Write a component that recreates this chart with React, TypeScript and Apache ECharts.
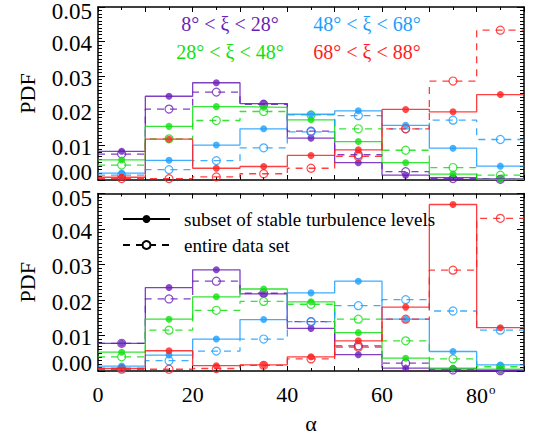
import React, { useEffect, useRef } from "react";
import * as echarts from "echarts";

// ---------- data ----------
const binEdges = [0, 10, 20, 30, 40, 50, 60, 70, 80, 90];
const binCenters = [5, 15, 25, 35, 45, 55, 65, 75, 85];
const xTickLabels = [0, 20, 40, 60, 80];
const yTickLabels = [0, 0.01, 0.02, 0.03, 0.04, 0.05];

const rangeLabels = ["8° < ξ < 28°", "28° < ξ < 48°", "48° < ξ < 68°", "68° < ξ < 88°"];
const legendLabels = ["subset of stable turbulence levels", "entire data set"];

// top panel: solid = subset, dashed = entire data set
const topPurpleSubset = [0.0083, 0.0242, 0.0281, 0.0221, 0.0121, 0.005, 0.0014, 0.0007, 0.0003];
const topPurpleAll = [0.0075, 0.0205, 0.0254, 0.0219, 0.0141, 0.0073, 0.0024, 0.0004, 0.0002];
const topGreenSubset = [0.0058, 0.0155, 0.0212, 0.021, 0.0174, 0.0111, 0.005, 0.0017, 0.0002];
const topGreenAll = [0.0043, 0.0119, 0.0172, 0.0198, 0.0188, 0.0148, 0.0086, 0.0036, 0.0014];
const topBlueSubset = [0.002, 0.0057, 0.0101, 0.0148, 0.019, 0.02, 0.0158, 0.0092, 0.004];
const topBlueAll = [0.0014, 0.003, 0.0056, 0.0093, 0.0139, 0.0186, 0.0148, 0.0173, 0.0117];
const topRedSubset = [0.0008, 0.0118, 0.0034, 0.0039, 0.0071, 0.0087, 0.0204, 0.0197, 0.0247];
const topRedAll = [0.0004, 0.0004, 0.0009, 0.0018, 0.0034, 0.0068, 0.0148, 0.0286, 0.0433];

// bottom panel
const botPurpleSubset = [0.0078, 0.0235, 0.0285, 0.0217, 0.012, 0.0046, 0.0008, 0.0006, 0.0002];
const botPurpleAll = [0.0078, 0.0203, 0.0253, 0.0219, 0.0139, 0.0071, 0.0022, 0.0003, 0.0001];
const botGreenSubset = [0.0053, 0.0146, 0.0209, 0.0231, 0.0195, 0.0108, 0.0036, 0.0008, 0.0005];
const botGreenAll = [0.004, 0.0115, 0.0171, 0.0196, 0.0188, 0.0146, 0.0085, 0.0034, 0.0012];
const botBlueSubset = [0.0014, 0.0045, 0.009, 0.0145, 0.022, 0.0253, 0.0146, 0.0055, 0.0017];
const botBlueAll = [0.0008, 0.0029, 0.0056, 0.009, 0.0139, 0.0184, 0.0201, 0.0169, 0.0115];
const botRedSubset = [0.0007, 0.0057, 0.0015, 0.0017, 0.004, 0.0085, 0.018, 0.0469, 0.0122];
const botRedAll = [0.0005, 0.0005, 0.0007, 0.0016, 0.0034, 0.0067, 0.0146, 0.0284, 0.043];

const colors = ["#6a1fb8", "#12e012", "#1c9fff", "#ff1e1e"];

const panels = [
  [
    [topPurpleSubset, topPurpleAll],
    [topGreenSubset, topGreenAll],
    [topBlueSubset, topBlueAll],
    [topRedSubset, topRedAll],
  ],
  [
    [botPurpleSubset, botPurpleAll],
    [botGreenSubset, botGreenAll],
    [botBlueSubset, botBlueAll],
    [botRedSubset, botRedAll],
  ],
];

const FONT = "'Liberation Serif', 'DejaVu Serif', serif";

function stepData(vals: number[]) {
  const d = vals.map((v, i) => [binEdges[i], v]);
  d.push([binEdges[binEdges.length - 1], vals[vals.length - 1]]);
  return d;
}

function buildOption() {
  const grids = [
    { left: 98, top: 3, width: 426, height: 177 },
    { left: 98, top: 193.5, width: 426, height: 177.5 },
  ];
  const xAxes: any[] = [];
  const yAxes: any[] = [];
  grids.forEach((_, g) => {
    const isBottom = g === 1;
    ["bottom", "top"].forEach((pos) => {
      const labelled = isBottom && pos === "bottom";
      xAxes.push({
        type: "value",
        gridIndex: g,
        position: pos,
        min: 0,
        max: 90,
        interval: 10,
        axisLine: { show: true, onZero: false, lineStyle: { color: "#000", width: 1.5 } },
        axisTick: { show: true, inside: true, length: 5, lineStyle: { color: "#000", width: 1 } },
        minorTick: { show: true, splitNumber: 2, length: 3, lineStyle: { color: "#000", width: 1 } },
        splitLine: { show: false },
        axisLabel: labelled
          ? {
              show: true,
              margin: 12,
              fontFamily: FONT,
              fontSize: 22,
              color: "#000",
              formatter: (v: number) => {
                if (!xTickLabels.includes(v)) return "";
                if (v === 80) return "{n|80}{s|o}";
                return String(v);
              },
              rich: {
                n: { fontFamily: FONT, fontSize: 22, color: "#000", padding: [0, 0, 0, 8] },
                s: { fontFamily: FONT, fontSize: 13, color: "#000", verticalAlign: "top", padding: [0, 0, 12, 1] },
              },
            }
          : { show: false },
        name: labelled ? "α" : "",
        nameLocation: "middle",
        nameGap: 41,
        nameTextStyle: { fontFamily: FONT, fontSize: 22, color: "#000" },
      });
    });
    ["left", "right"].forEach((pos) => {
      const labelled = pos === "left";
      yAxes.push({
        type: "value",
        gridIndex: g,
        position: pos,
        min: 0,
        max: 0.05,
        interval: 0.01,
        axisLine: { show: true, onZero: false, lineStyle: { color: "#000", width: 1.5 } },
        axisTick: { show: true, inside: true, length: 7, lineStyle: { color: "#000", width: 1 } },
        minorTick: { show: true, splitNumber: 10, length: 4, lineStyle: { color: "#000", width: 1 } },
        splitLine: { show: false },
        axisLabel: labelled
          ? {
              show: true,
              margin: 6,
              fontFamily: FONT,
              fontSize: 23,
              color: "#000",
              formatter: (v: number) => {
                const s = v.toFixed(2);
                if (Math.abs(v - 0.05) < 1e-9) return `{t|${s}}`;
                if (Math.abs(v) < 1e-9) return `{b|${s}}`;
                return `{m|${s}}`;
              },
              rich: {
                t: { fontFamily: FONT, fontSize: 23, color: "#000", padding: [9, 0, 0, 0] },
                b: { fontFamily: FONT, fontSize: 23, color: "#000", padding: [0, 0, 16, 0] },
                m: { fontFamily: FONT, fontSize: 23, color: "#000", padding: [4, 0, 0, 0] },
              },
            }
          : { show: false },
        name: labelled ? "PDF" : "",
        nameLocation: "middle",
        nameRotate: 90,
        nameGap: 60,
        nameTextStyle: { fontFamily: FONT, fontSize: 22, color: "#000" },
      });
    });
  });

  const series: any[] = [];
  panels.forEach((panel, g) => {
    const xi = g * 2;
    const yi = g * 2;
    panel.forEach(([subset, all], c) => {
      const col = colors[c];
      series.push({
        type: "line",
        xAxisIndex: xi,
        yAxisIndex: yi,
        step: "end",
        data: stepData(all),
        showSymbol: false,
        symbol: "none",
        lineStyle: { color: col, width: 1.3, type: [7, 6], opacity: 0.85 },
        silent: true,
      });
      series.push({
        type: "line",
        xAxisIndex: xi,
        yAxisIndex: yi,
        step: "end",
        data: stepData(subset),
        showSymbol: false,
        symbol: "none",
        lineStyle: { color: col, width: 1.3, opacity: 0.85 },
        silent: true,
      });
      series.push({
        type: "scatter",
        xAxisIndex: xi,
        yAxisIndex: yi,
        data: binCenters.map((x, i) => [x, all[i]]),
        symbol: "circle",
        symbolSize: 8,
        itemStyle: { color: "none", borderColor: col, borderWidth: 1.2 },
        silent: true,
      });
      series.push({
        type: "scatter",
        xAxisIndex: xi,
        yAxisIndex: yi,
        data: binCenters.map((x, i) => [x, subset[i]]),
        symbol: "circle",
        symbolSize: 7,
        itemStyle: { color: col },
        silent: true,
      });
    });
  });

  // legend-only series
  series.push({
    name: legendLabels[0],
    type: "line",
    xAxisIndex: 2,
    yAxisIndex: 2,
    data: [],
    symbol: "circle",
    symbolSize: 7,
    itemStyle: { color: "#000" },
    lineStyle: { color: "#000", width: 1.2 },
  });
  series.push({
    name: legendLabels[1],
    type: "line",
    xAxisIndex: 2,
    yAxisIndex: 2,
    data: [],
    symbol: "emptyCircle",
    symbolSize: 8,
    itemStyle: { color: "#000", borderColor: "#000", borderWidth: 1 },
    lineStyle: { color: "#000", width: 1.2, type: [7, 6] },
  });

  const textPos = [
    [230, 24],
    [230, 52],
    [367, 24],
    [367, 52],
  ];

  return {
    animation: false,
    grid: grids,
    xAxis: xAxes,
    yAxis: yAxes,
    series,
    legend: {
      data: legendLabels,
      orient: "vertical",
      left: 117,
      top: 203,
      itemWidth: 47,
      itemHeight: 10,
      itemGap: 4,
      selectedMode: false,
      textStyle: { fontFamily: FONT, fontSize: 19, color: "#000", lineHeight: 22, padding: [0, 0, 0, 9] },
    },
    graphic: rangeLabels.map((t, i) => ({
      type: "text",
      x: textPos[i][0],
      y: textPos[i][1],
      style: {
        text: t,
        fill: colors[i],
        fontFamily: "Liberation Serif",
        fontSize: 20,
        fontStyle: "normal",
        fontWeight: "normal",
        align: "center",
        verticalAlign: "middle",
      },
      silent: true,
    })),
  };
}

export default function App() {
  const ref = useRef<HTMLDivElement>(null);
  useEffect(() => {
    if (!ref.current) return;
    const chart = echarts.init(ref.current, undefined, { renderer: "svg" });
    chart.setOption(buildOption() as any);
    return () => chart.dispose();
  }, []);
  return (
    <div
      ref={ref}
      style={{ position: "fixed", left: 0, top: 0, width: 540, height: 436, background: "#fff" }}
    />
  );
}
